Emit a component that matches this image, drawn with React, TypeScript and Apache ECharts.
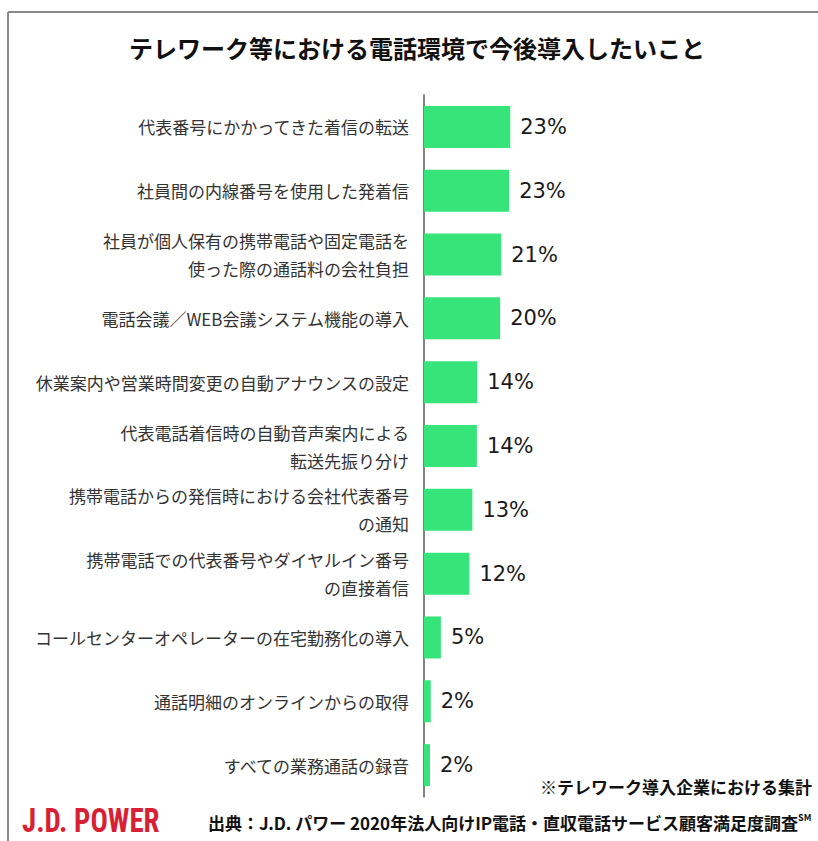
import React, { useEffect, useRef } from "react";
import * as echarts from "echarts";

const titleText = "テレワーク等における電話環境で今後導入したいこと";
const categories = [
  "代表番号にかかってきた着信の転送",
  "社員間の内線番号を使用した発着信",
  "社員が個人保有の携帯電話や固定電話を\n使った際の通話料の会社負担",
  "電話会議／WEB会議システム機能の導入",
  "休業案内や営業時間変更の自動アナウンスの設定",
  "代表電話着信時の自動音声案内による\n転送先振り分け",
  "携帯電話からの発信時における会社代表番号\nの通知",
  "携帯電話での代表番号やダイヤルイン番号\nの直接着信",
  "コールセンターオペレーターの在宅勤務化の導入",
  "通話明細のオンラインからの取得",
  "すべての業務通話の録音",
];
const values = [23.0, 22.7, 20.6, 20.3, 14.2, 14.1, 12.9, 12.1, 4.5, 1.8, 1.6];
const valueLabels = ["23%", "23%", "21%", "20%", "14%", "14%", "13%", "12%", "5%", "2%", "2%"];
const noteText = "※テレワーク導入企業における集計";
const sourceText = "出典：J.D. パワー 2020年法人向けIP電話・直収電話サービス顧客満足度調査";
const sourceMark = "SM";
const logoText = "J.D. POWER";

export default function App() {
  const ref = useRef<HTMLDivElement>(null);
  useEffect(() => {
    if (!ref.current) return;
    const chart = echarts.init(ref.current, null, { renderer: "svg" });
    const jp = "'Noto Sans CJK JP', 'Noto Sans', sans-serif";
    chart.setOption({
      animation: false,
      backgroundColor: "#ffffff",
      grid: { left: 424, right: 19, top: 95, bottom: 44, containLabel: false },
      xAxis: { type: "value", min: 0, max: 100, show: false },
      yAxis: {
        type: "category",
        inverse: true,
        data: categories,
        axisLine: { show: true, lineStyle: { color: "#595959", width: 1.5 } },
        axisTick: { show: false },
        axisLabel: {
          margin: 15,
          fontSize: 17,
          lineHeight: 28,
          color: "#333333",
          fontFamily: jp,
          align: "right",
        },
      },
      series: [
        {
          type: "bar",
          data: values,
          barWidth: 42,
          itemStyle: { color: "#36e47a" },
          label: {
            show: true,
            position: "right",
            distance: 10,
            fontSize: 21,
            color: "#1a1a1a",
            fontFamily: "'DejaVu Sans', Verdana, sans-serif",
            formatter: (p: any) => valueLabels[p.dataIndex],
          },
        },
      ],
      graphic: [
        {
          type: "line",
          shape: { x1: 8, y1: 12, x2: 818, y2: 12 },
          style: { stroke: "#8a8a8a", lineWidth: 2 },
          silent: true,
        },
        {
          type: "line",
          shape: { x1: 8, y1: 12, x2: 8, y2: 841 },
          style: { stroke: "#8a8a8a", lineWidth: 2 },
          silent: true,
        },
        {
          type: "text",
          x: 417,
          y: 47,
          style: {
            text: titleText,
            fontSize: 24,
            fontWeight: "bold",
            fontFamily: jp,
            fill: "#111111",
            align: "center",
            verticalAlign: "middle",
          },
        },
        {
          type: "text",
          x: 812,
          y: 786,
          style: {
            text: noteText,
            fontSize: 17,
            fontWeight: "bold",
            fontFamily: jp,
            fill: "#111111",
            align: "right",
            verticalAlign: "middle",
          },
        },
        {
          type: "text",
          x: 208,
          y: 822,
          style: {
            text: "{a|" + sourceText + "}{b|" + sourceMark + "}",
            fontFamily: jp,
            fill: "#111111",
            align: "left",
            verticalAlign: "middle",
            rich: {
              a: { fontSize: 17, fontWeight: "bold", fontFamily: jp, fill: "#111111" },
              b: { fontSize: 9, fontWeight: "bold", fontFamily: jp, fill: "#111111", padding: [0, 0, 10, 0] },
            },
          },
        },
        {
          type: "text",
          x: 22,
          y: 821,
          scaleX: 0.93,
          scaleY: 1.05,
          style: {
            text: logoText,
            fontSize: 31,
            fontWeight: "bold",
            fontFamily: "'Liberation Sans Narrow', 'Roboto Condensed', Roboto, sans-serif",
            fill: "#d91f33",
            align: "left",
            verticalAlign: "middle",
          },
        },
      ],
    });
    return () => chart.dispose();
  }, []);
  return (
    <div
      ref={ref}
      style={{ position: "fixed", left: 0, top: 0, width: 818, height: 841, background: "#fff" }}
    />
  );
}
